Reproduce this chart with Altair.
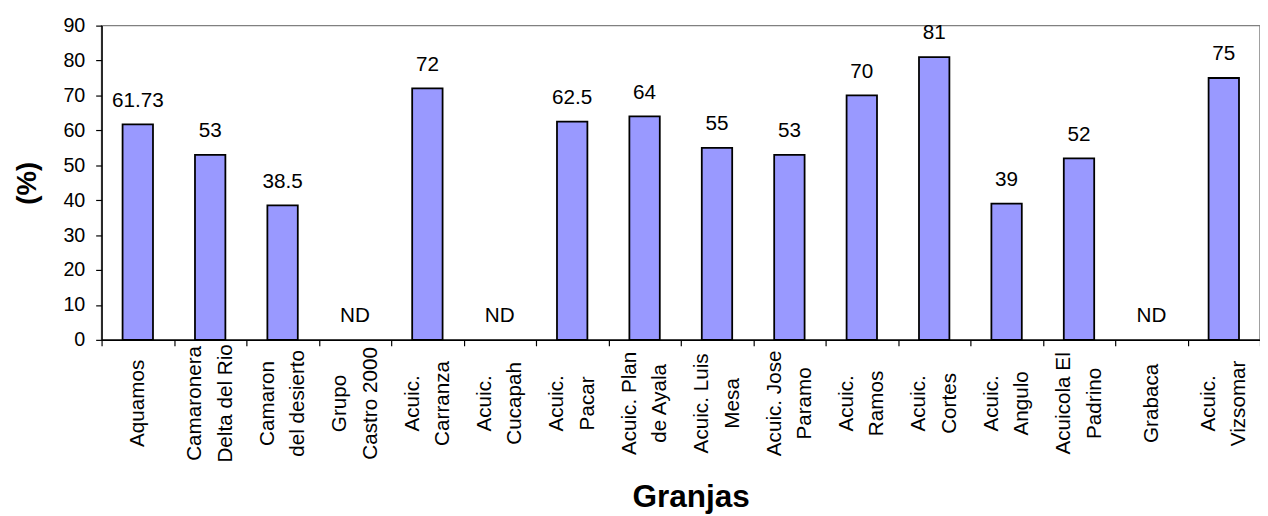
import altair as alt
import pandas as pd

categorias = [
    "Aquamos",
    "Camaronera|Delta del Rio",
    "Camaron|del desierto",
    "Grupo|Castro 2000",
    "Acuic.|Carranza",
    "Acuic.|Cucapah",
    "Acuic.|Pacar",
    "Acuic. Plan|de Ayala",
    "Acuic. Luis|Mesa",
    "Acuic. Jose|Paramo",
    "Acuic.|Ramos",
    "Acuic.|Cortes",
    "Acuic.|Angulo",
    "Acuicola El|Padrino",
    "Grabaca",
    "Acuic.|Vizsomar",
]
valores = [61.73, 53, 38.5, None, 72, None, 62.5, 64, 55, 53, 70, 81, 39, 52, None, 75]
etiquetas = ["61.73", "53", "38.5", "ND", "72", "ND", "62.5", "64", "55", "53", "70", "81", "39", "52", "ND", "75"]
y_ticks = [0, 10, 20, 30, 40, 50, 60, 70, 80, 90]

df = pd.DataFrame({"granja": categorias, "valor": valores, "etiqueta": etiquetas})

FONT = "Liberation Sans"
LINE_H = 31

x_axis = alt.Axis(
    title="Granjas",
    titleFont=FONT,
    titleFontSize=32,
    titleFontWeight="bold",
    titleColor="black",
    titleX=598,
    titleAlign="center",
    titleY=169,
    titleBaseline="alphabetic",
    labelExpr="split(datum.label, '|')",
    labelAngle=-90,
    labelAlign="center",
    labelBaseline="middle",
    labelFont=FONT,
    labelFontSize=21,
    labelColor="black",
    labelLineHeight=LINE_H,
    labelPadding=58,
    labelOffset={
        "condition": {"test": "indexof(datum.label, '|') >= 0", "value": -LINE_H / 2},
        "value": 0,
    },
    labelOverlap=False,
    labelLimit=0,
    tickBand="extent",
    tickSize=6,
    tickColor="black",
    tickWidth=1.2,
    domainColor="black",
    domainWidth=1.5,
    grid=False,
)

y_axis = alt.Axis(
    values=y_ticks,
    title="(%)",
    titleFont=FONT,
    titleFontSize=28,
    titleFontWeight="bold",
    titleColor="black",
    titleX=-67,
    titleBaseline="alphabetic",
    labelFont=FONT,
    labelFontSize=20,
    labelColor="black",
    labelPadding=11,
    labelOverlap=False,
    tickSize=6,
    tickColor="black",
    tickWidth=1.2,
    domainColor="black",
    domainWidth=1.5,
    grid=False,
)

x_scale = alt.Scale(paddingInner=0, paddingOuter=0)
y_scale = alt.Scale(domain=[0, 90], nice=False)

base = alt.Chart(df)

bars = base.mark_bar(
    width=alt.RelativeBandSize(0.42),
    color="#9999FF",
    stroke="black",
    strokeWidth=1.8,
).encode(
    x=alt.X("granja:N", sort=categorias, scale=x_scale, axis=x_axis),
    y=alt.Y("valor:Q", scale=y_scale, axis=y_axis),
)

text = base.transform_calculate(
    ypos="isValid(datum.valor) ? datum.valor : 0"
).mark_text(
    font=FONT,
    fontSize=21,
    color="black",
    baseline="alphabetic",
    align="center",
    dy=-18,
).encode(
    x=alt.X("granja:N", sort=categorias, scale=x_scale, axis=x_axis),
    y=alt.Y("ypos:Q", scale=y_scale, axis=y_axis),
    text="etiqueta:N",
)

chart = (
    alt.layer(bars, text)
    .properties(
        width=1176,
        height=319,
        padding={"left": 95, "top": 14, "right": 0, "bottom": 180},
        autosize=alt.AutoSizeParams(type="none"),
        background="white",
    )
    .configure_view(stroke="#808080", strokeWidth=1.5)
)

chart.save("out.html", embed_options={"renderer": "svg", "actions": False})
